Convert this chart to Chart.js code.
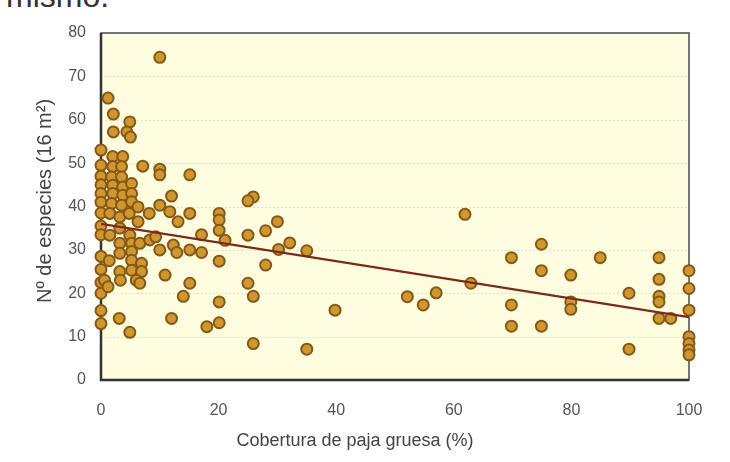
<!DOCTYPE html>
<html>
<head>
<meta charset="utf-8">
<script src="https://cdn.jsdelivr.net/npm/chart.js@4/dist/chart.umd.min.js"></script>
<style>
  html, body { margin: 0; padding: 0; background: #ffffff; }
  #wrap { position: relative; width: 730px; height: 462px; overflow: hidden; }
  #frag { position: absolute; left: 6px; top: -20px; font: 32px "Liberation Sans", Arial, sans-serif; line-height: 32px; color: #333; }
  canvas { position: absolute; left: 0; top: 0; }
</style>
</head>
<body>
<div id="wrap">
  <div id="frag">mismo.</div>
  <canvas id="c" width="730" height="462"></canvas>
</div>
<script>
// ---- data ----
const X_TITLE = "Cobertura de paja gruesa (%)";
const Y_TITLE = "Nº de especies (16 m²)";
const X_TICKS = [0, 20, 40, 60, 80, 100];
const Y_TICKS = [0, 10, 20, 30, 40, 50, 60, 70, 80];

const COVER = [
  0, 0, 0, 0, 0, 0, 0, 0, 0, 0, 0, 0, 0, 0, 0, 0.6, 1.2, 1.4,
  1.2, 2.1, 2.1, 2, 2, 1.8, 2, 2, 1.8, 1.5, 1.5,
  3.7, 3.5, 3.5, 3.7, 3.7, 3.5, 3.2, 3.2, 3.2, 3.2, 3.2, 3.3, 3.1,
  4.9, 4.4, 5, 5.2, 5.2, 5.2, 4.8, 4.9, 5.2, 5.2, 5.2, 5.2, 4.9,
  7.1, 6.3, 6.3, 6.6, 6.9, 6.9, 6, 6.6,
  8.2, 8.3, 9.3, 10, 10, 10, 10, 10, 10.9,
  12, 11.7, 13.1, 12.3, 12.9, 12,
  15.1, 15.1, 15.1, 15.1, 14,
  17.1, 17.1, 18,
  20.1, 20.1, 20.1, 21.1, 20.1, 20.1, 20.1,
  25.9, 25, 25, 25, 25.9, 25.9,
  28, 28, 30, 30.2, 32.1, 35, 35, 39.8,
  52.1, 54.8, 57, 61.9, 62.9,
  69.8, 69.8, 69.8, 74.9, 74.9, 74.9, 79.9, 79.9, 79.9, 84.9, 89.8, 89.8,
  94.9, 94.9, 94.9, 94.9, 94.9, 96.9,
  100, 100, 100, 100, 100, 100, 100
];
const SPECIES = [
  53, 49.5, 47, 45, 43, 41, 38.5, 35.5, 33.5, 28.5, 25.5, 22.5, 20, 16, 13, 23, 21.5, 27.5,
  65, 61.3, 57.2, 51.5, 49.2, 46.8, 44.9, 43, 40.7, 38.4, 33.4,
  51.5, 49.2, 46.8, 44.5, 42.6, 40.3, 37.6, 35, 31.5, 29.2, 25, 23, 14.2,
  59.5, 57.2, 56, 45.3, 43, 41.1, 38.4, 33.4, 31.5, 29.6, 27.6, 25.3, 11,
  49.3, 39.9, 36.5, 31.5, 26.9, 25, 23, 22.3,
  38.4, 32.3, 33, 40.3, 48.6, 47.3, 74.4, 30, 24.2,
  42.4, 38.8, 36.5, 31.1, 29.4, 14.2,
  47.3, 38.4, 30, 22.3, 19.3,
  33.5, 29.4, 12.3,
  38.4, 36.9, 34.5, 32.2, 27.4, 18, 13.2,
  42.2, 41.3, 33.4, 22.3, 19.3, 8.4,
  34.4, 26.5, 36.5, 30.1, 31.6, 29.8, 7.1, 16.1,
  19.2, 17.3, 20.1, 38.2, 22.3,
  28.2, 17.3, 12.4, 31.3, 25.2, 12.4, 24.2, 18, 16.3, 28.2, 20, 7.1,
  28.2, 23.2, 19.3, 18, 14.2, 14.2,
  25.2, 21.1, 16.1, 10, 8.4, 6.9, 5.8
];
const FIT_X = [0, 100];
const FIT_Y = [36, 14.5];

const points = COVER.map((x, i) => ({ x: x, y: SPECIES[i] }));
const fitLine = FIT_X.map((x, i) => ({ x: x, y: FIT_Y[i] }));

const plotFrame = {
  id: 'plotFrame',
  beforeDatasetsDraw(chart) {
    const a = chart.chartArea, ctx = chart.ctx;
    ctx.save();
    ctx.fillStyle = '#fffde0';
    ctx.fillRect(a.left, a.top, a.right - a.left, a.bottom - a.top);
    ctx.strokeStyle = 'rgba(200,205,170,0.55)';
    ctx.lineWidth = 1;
    ctx.setLineDash([2, 2]);
    const ys = chart.scales.y;
    Y_TICKS.forEach(v => {
      if (v === 0 || v === 80) return;
      const py = Math.round(ys.getPixelForValue(v)) + 0.5;
      ctx.beginPath(); ctx.moveTo(a.left, py); ctx.lineTo(a.right, py); ctx.stroke();
    });
    ctx.setLineDash([]);
    ctx.strokeStyle = '#4a4a4a';
    ctx.lineWidth = 1.5;
    ctx.strokeRect(a.left, a.top, a.right - a.left, a.bottom - a.top);
    ctx.strokeStyle = '#333';
    ctx.lineWidth = 2.5;
    ctx.beginPath();
    ctx.moveTo(a.left, a.top); ctx.lineTo(a.left, a.bottom); ctx.lineTo(a.right, a.bottom);
    ctx.stroke();
    ctx.restore();
  }
};

new Chart(document.getElementById('c'), {
  type: 'scatter',
  data: {
    datasets: [
      {
        type: 'line',
        data: fitLine,
        borderColor: '#7a2a1c',
        borderWidth: 2.2,
        pointRadius: 0,
        fill: false,
        order: 0
      },
      {
        data: points,
        backgroundColor: '#cf982e',
        borderColor: '#87581a',
        borderWidth: 2,
        pointRadius: 5.5,
        clip: false,
        order: 1
      }
    ]
  },
  options: {
    responsive: false,
    animation: false,
    devicePixelRatio: 1,
    layout: { padding: { left: 0, right: 41, top: 33, bottom: 0 } },
    plugins: { legend: { display: false }, tooltip: { enabled: false } },
    scales: {
      x: {
        type: 'linear', min: 0, max: 100,
        afterBuildTicks: s => { s.ticks = X_TICKS.map(v => ({ value: v })); },
        afterFit: s => { s.height = 82; },
        grid: { display: false, drawTicks: true, tickLength: 5, tickColor: '#555' },
        border: { display: false },
        ticks: { color: '#555', font: { family: '"Liberation Sans", Arial, sans-serif', size: 16 }, padding: 16, maxRotation: 0 },
        title: { display: true, text: X_TITLE + ' '.repeat(16), color: '#444',
                 font: { family: '"Liberation Sans", Arial, sans-serif', size: 18 }, padding: { top: 0, bottom: 10 } }
      },
      y: {
        type: 'linear', min: 0, max: 80,
        afterBuildTicks: s => { s.ticks = Y_TICKS.map(v => ({ value: v })); },
        afterFit: s => { s.width = 101; },
        grid: { display: false, drawTicks: true, tickLength: 5, tickColor: '#555' },
        border: { display: false },
        ticks: { color: '#555', font: { family: '"Liberation Sans", Arial, sans-serif', size: 16 }, padding: 10 },
        title: { display: true, text: '  ' + Y_TITLE, color: '#444',
                 font: { family: '"Liberation Sans", Arial, sans-serif', size: 20 }, padding: { top: 33, bottom: 0 } }
      }
    }
  },
  plugins: [plotFrame]
});
</script>
</body>
</html>
